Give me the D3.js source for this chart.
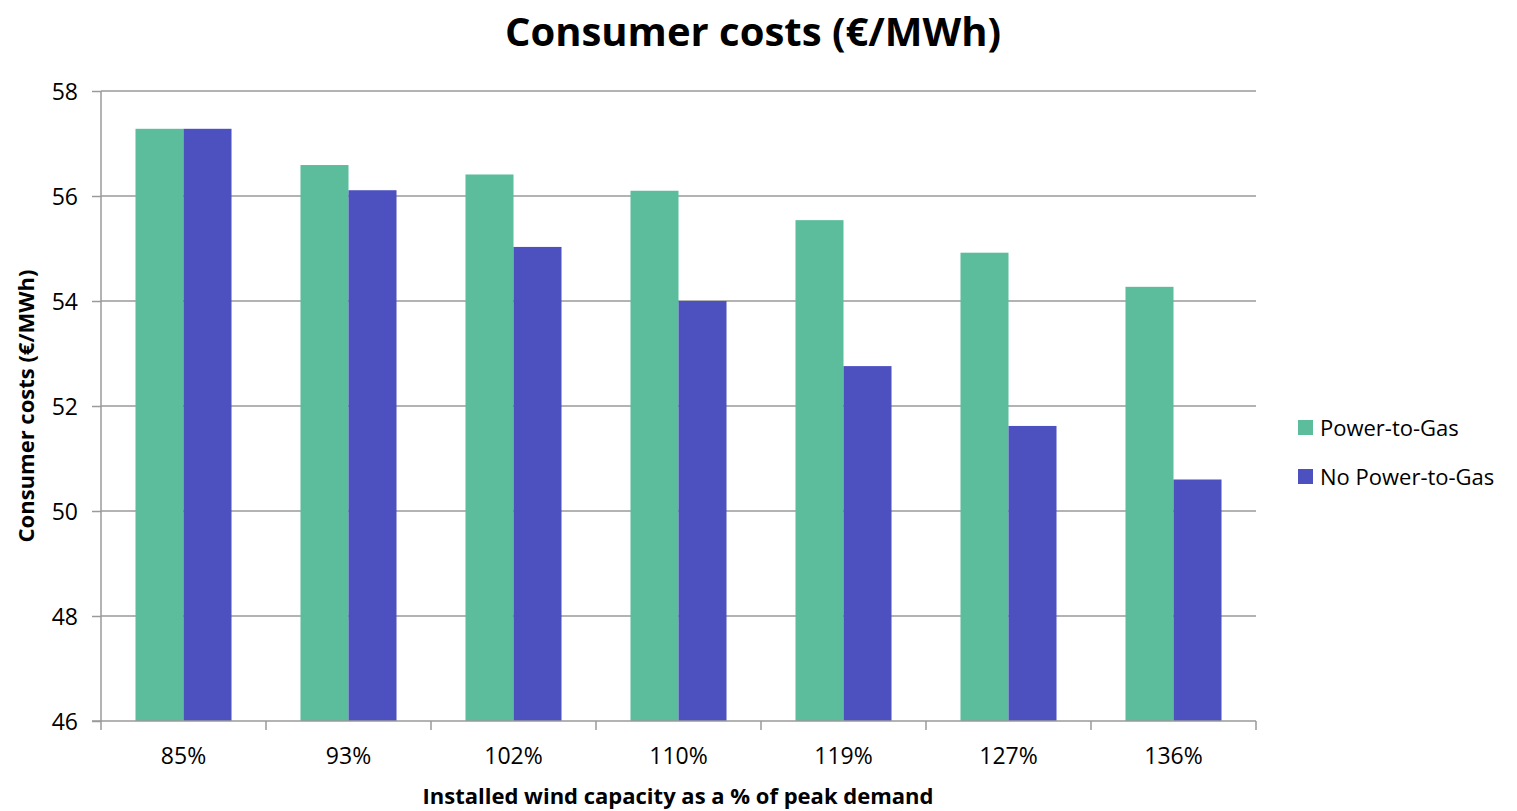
<!DOCTYPE html>
<html>
<head>
<meta charset="utf-8">
<script src="https://cdn.jsdelivr.net/npm/d3@7"></script>
<style>
    body { margin: 0; background: #fff; }
    text { font-family: "Open Sans", "Noto Sans", sans-serif; fill: #000; }
</style>
</head>
<body>
<div id="wrapper"></div>
<script>
const categories = ["85%", "93%", "102%", "110%", "119%", "127%", "136%"];
const seriesNames = ["Power-to-Gas", "No Power-to-Gas"];
const powerToGas = [57.28, 56.59, 56.41, 56.1, 55.54, 54.92, 54.27];
const noPowerToGas = [57.28, 56.11, 55.03, 54.0, 52.76, 51.62, 50.6];
const yTicks = [46, 48, 50, 52, 54, 56, 58];
const colors = ["#5bbd9c", "#4d51c0"];

const dimensions = {
    width: 1517,
    height: 811,
    margin: {
        top: 91,
        right: 261,
        bottom: 90,
        left: 101,
    },
}
dimensions.boundedWidth = dimensions.width - dimensions.margin.left - dimensions.margin.right;
dimensions.boundedHeight = dimensions.height - dimensions.margin.top - dimensions.margin.bottom;

const wrapper = d3.select("#wrapper")
    .append("svg")
    .attr("width", dimensions.width)
    .attr("height", dimensions.height);

const bounds = wrapper.append("g")
    .attr("transform", `translate(${dimensions.margin.left},${dimensions.margin.top})`);

const xScale = d3.scaleBand()
    .domain(categories)
    .range([0, dimensions.boundedWidth])
    .paddingInner(0.418)
    .paddingOuter(0.209);

const xSub = d3.scaleBand()
    .domain(seriesNames)
    .range([0, xScale.bandwidth()]);

const yScale = d3.scaleLinear()
    .domain([46, 58])
    .range([dimensions.boundedHeight, 0]);

// gridlines
bounds.append("g")
    .selectAll("line")
    .data(yTicks.slice(1))
    .join("line")
    .attr("x1", 0)
    .attr("x2", dimensions.boundedWidth)
    .attr("y1", d => yScale(d))
    .attr("y2", d => yScale(d))
    .attr("stroke", "#9a9a9a")
    .attr("stroke-width", 1.5);

const data = categories.map((c, i) => ({
    cat: c,
    values: [
        { name: seriesNames[0], value: powerToGas[i] },
        { name: seriesNames[1], value: noPowerToGas[i] },
    ],
}));

bounds.append("g")
    .selectAll("g")
    .data(data)
    .join("g")
    .attr("transform", d => `translate(${xScale(d.cat)},0)`)
    .selectAll("rect")
    .data(d => d.values)
    .join("rect")
    .attr("x", d => xSub(d.name))
    .attr("y", d => yScale(d.value))
    .attr("width", xSub.bandwidth())
    .attr("height", d => yScale(46) - yScale(d.value))
    .attr("fill", (d, i) => colors[i]);

// y axis
const yAxis = bounds.append("g")
    .call(d3.axisLeft(yScale).tickValues(yTicks).tickSize(9).tickPadding(14));
yAxis.selectAll("line, path").attr("stroke", "#9a9a9a").attr("stroke-width", 1.5);
yAxis.select(".domain").attr("d", `M0,0V${dimensions.boundedHeight}`);
yAxis.selectAll("text").style("font-size", "23px").attr("dy", "0.35em");

// x axis, ticks on category boundaries
const xAxis = bounds.append("g")
    .attr("transform", `translate(0,${dimensions.boundedHeight})`);
xAxis.append("line")
    .attr("x1", -9)
    .attr("x2", dimensions.boundedWidth)
    .attr("stroke", "#9a9a9a")
    .attr("stroke-width", 1.5);
xAxis.selectAll(".bound-tick")
    .data(d3.range(categories.length + 1))
    .join("line")
    .attr("class", "bound-tick")
    .attr("x1", i => i * xScale.step())
    .attr("x2", i => i * xScale.step())
    .attr("y1", 0)
    .attr("y2", 9)
    .attr("stroke", "#9a9a9a")
    .attr("stroke-width", 1.5);
xAxis.selectAll(".cat-label")
    .data(categories)
    .join("text")
    .attr("class", "cat-label")
    .attr("x", d => xScale(d) + xScale.bandwidth() / 2)
    .attr("y", 43)
    .attr("text-anchor", "middle")
    .style("font-size", "23px")
    .text(d => d);

// title + axis labels
wrapper.append("text")
    .attr("x", 753)
    .attr("y", 46)
    .attr("text-anchor", "middle")
    .style("font-size", "40px")
    .style("font-weight", "bold")
    .text("Consumer costs (€/MWh)");

wrapper.append("text")
    .attr("x", 678)
    .attr("y", 804)
    .attr("text-anchor", "middle")
    .style("font-size", "22px")
    .style("font-weight", "bold")
    .text("Installed wind capacity as a % of peak demand");

wrapper.append("text")
    .attr("transform", "translate(34,406) rotate(-90)")
    .attr("text-anchor", "middle")
    .style("font-size", "22px")
    .style("font-weight", "bold")
    .text("Consumer costs (€/MWh)");

// legend
const legend = wrapper.append("g")
    .attr("transform", "translate(1298,420)");
const items = legend.selectAll("g")
    .data(seriesNames)
    .join("g")
    .attr("transform", (d, i) => `translate(0,${i * 49})`);
items.append("rect")
    .attr("width", 15)
    .attr("height", 15)
    .attr("fill", (d, i) => colors[i]);
items.append("text")
    .attr("x", 22)
    .attr("y", 8)
    .attr("dy", "0.35em")
    .style("font-size", "22px")
    .text(d => d);
</script>
</body>
</html>
